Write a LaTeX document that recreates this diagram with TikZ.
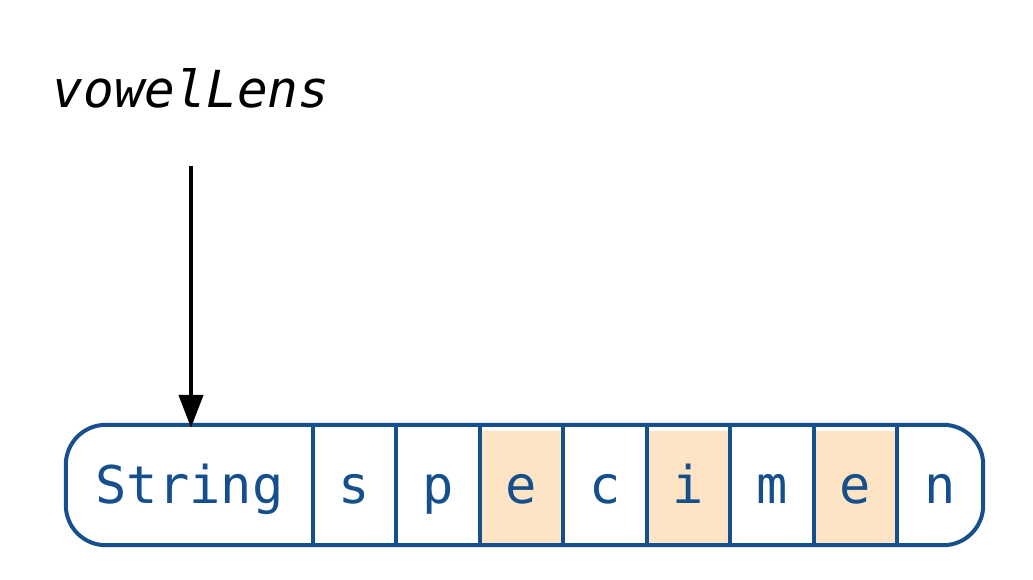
\documentclass[tikz,border=0pt]{standalone}
\usepackage{fontspec}
\newfontfamily\cellmono{DejaVu Sans Mono}
\usetikzlibrary{arrows.meta}
\definecolor{boxblue}{HTML}{15508C}
\definecolor{vowelfill}{HTML}{FDE4C4}
\tikzset{
  cellbox/.style={rectangle, inner sep=0pt, minimum height=120pt,
    text height=36pt, text depth=0pt, text=boxblue,
    font=\cellmono\fontsize{52}{60}\selectfont},
  divider/.style={draw=boxblue, line width=4pt},
  outerbox/.style={draw=boxblue, line width=4pt, rounded corners=40pt},
  vowel/.style={fill=vowelfill},
  pointer/.style={draw=black, line width=4.3pt, -{Triangle[length=33pt,width=24pt]}},
  lenslabel/.style={inner sep=0pt, anchor=base, font=\cellmono\itshape\fontsize{51}{60}\selectfont}
}
\begin{document}
\begin{tikzpicture}[x=1pt,y=-1pt]
\useasboundingbox (0,0) rectangle (1033,579);
% cells: boundaries 66,313,396,480,563,647,730,814,897,983
\node[cellbox, minimum width=247pt] (c0) at (189.5,485) {String};
\node[cellbox, minimum width=83pt] (c1) at (354.5,485) {};
\node[cellbox, minimum width=84pt] (c2) at (438,485) {};
\node[cellbox, minimum width=83pt] (c3) at (521.5,485) {};
\node[cellbox, minimum width=84pt] (c4) at (605,485) {};
\node[cellbox, minimum width=83pt] (c5) at (688.5,485) {};
\node[cellbox, minimum width=84pt] (c6) at (772,485) {};
\node[cellbox, minimum width=83pt] (c7) at (855.5,485) {};
\node[cellbox, minimum width=86pt] (c8) at (940,485) {};
% vowel highlights
\foreach \c in {c3,c5,c7}
  \fill[vowel] ([yshift=-6pt]\c.north west) rectangle (\c.south east);
% letters
\foreach \c/\t in {c1/s,c2/p,c3/e,c4/c,c5/i,c6/m,c7/e,c8/n}
  \node[cellbox] at (\c) {\t};
% outer box and dividers
\draw[outerbox] (c0.north west) rectangle (c8.south east);
\foreach \c in {c0,c1,c2,c3,c4,c5,c6,c7}
  \draw[divider] (\c.north east) -- (\c.south east);
% label and pointer
\node[lenslabel] (lens) at (191,107) {vowelLens};
\draw[pointer, shorten <=59pt, shorten >=-3pt] (lens.base) -- (lens.base |- c0.north);
\end{tikzpicture}
\end{document}
